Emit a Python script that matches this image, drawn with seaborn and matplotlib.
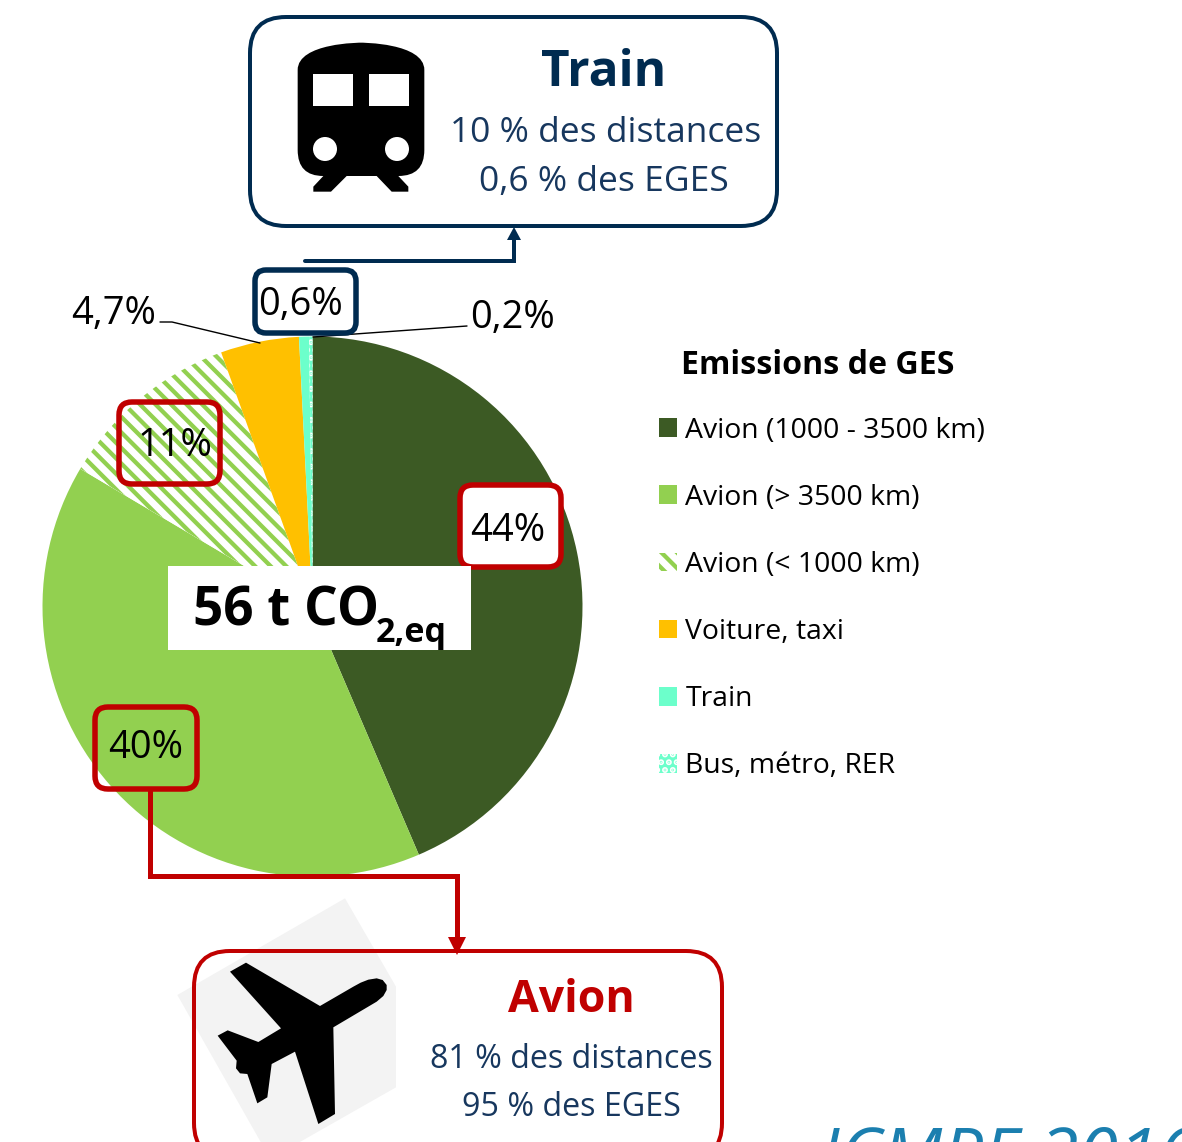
import numpy as np
import pandas as pd
import matplotlib.pyplot as plt
import seaborn as sns
from matplotlib.path import Path
from matplotlib.patches import Circle, FancyBboxPatch, PathPatch, Polygon, Rectangle

# Configuration
W, H = 1182, 1142
DPI = 140
NAVY = '#002B50'
TEXT_NAVY = '#17375E'
RED = '#C00000'

# Chart data
categories = ['Avion (1000 - 3500 km)', 'Avion (> 3500 km)', 'Avion (< 1000 km)',
              'Voiture, taxi', 'Train', 'Bus, métro, RER']
shares = [43.6, 40, 11, 4.7, 0.6, 0.2]
colors = ['#3C5A24', '#92D050', '#FFFFFF', '#FFC000', '#6CFFCB', '#6CFFCB']


def pt(px):
    # pixel size to points
    return px * 72 / DPI


def Y(py):
    # picture y (downwards) to axes y
    return H - py


def rounded_box(ax, x0, y0, x1, y1, r, color, lw, fill='none', zorder=5):
    ax.add_patch(FancyBboxPatch((x0 + r, Y(y1) + r), x1 - x0 - 2 * r, y1 - y0 - 2 * r,
                                boxstyle=f'round,pad={r},rounding_size={r}',
                                fc=fill, ec=color, lw=pt(lw), zorder=zorder))


def label(ax, x, y, s, size, color='black', weight='normal', ha='center', zorder=8, **kw):
    # Open Sans sits a few pixels high with va=center
    ax.text(x, Y(y + 4), s, fontsize=pt(size), color=color, fontweight=weight,
            ha=ha, va='center', zorder=zorder, **kw)


def draw_pie(ax):
    wedges, _ = ax.pie(shares, colors=sns.color_palette(colors), startangle=90,
                       counterclock=False, center=(312.5, Y(606.5)), radius=270,
                       wedgeprops={'linewidth': 0})
    wedges[2].set(hatch='\\\\\\', edgecolor='#92D050', linewidth=0)
    wedges[5].set(hatch='...', edgecolor='white', linewidth=0)
    return wedges


def draw_legend(ax, wedges):
    leg = ax.legend(wedges, categories, loc='upper left',
                    bbox_to_anchor=(653 / W, 1 - 411 / H), frameon=False,
                    prop={'size': pt(28.4)}, labelcolor='black',
                    handlelength=0.64, handleheight=0.64, handletextpad=0.3,
                    labelspacing=1.377, borderpad=0.2, borderaxespad=0)
    label(ax, 681, 362, 'Emissions de GES', 32.2, weight='bold', ha='left')


def draw_train(ax):
    # outline, zoomed x3 from (270, 20)
    verts = [(83, 150), (83, 68), (273, 68), (273, 68), (273, 68), (463, 68), (463, 150),
             (463, 390), (463, 468), (385, 468), (415, 500), (415, 515), (365, 515), (320, 468),
             (230, 468), (183, 515), (130, 515), (130, 500), (160, 468), (83, 468), (83, 390),
             (83, 150)]
    codes = [Path.MOVETO, Path.CURVE4, Path.CURVE4, Path.CURVE4, Path.CURVE4, Path.CURVE4, Path.CURVE4,
             Path.LINETO, Path.CURVE3, Path.CURVE3, Path.LINETO, Path.LINETO, Path.LINETO, Path.LINETO,
             Path.LINETO, Path.LINETO, Path.LINETO, Path.LINETO, Path.LINETO, Path.CURVE3, Path.CURVE3,
             Path.CLOSEPOLY]
    conv = [(270 + x / 3, Y(20 + y / 3)) for x, y in verts]
    ax.add_patch(PathPatch(Path(conv, codes), fc='black', ec='none', zorder=3))
    for x0, x1 in [(313, 353), (369, 409)]:
        ax.add_patch(Rectangle((x0, Y(106)), x1 - x0, 32, fc='white', ec='none', zorder=4))
    for x in [325, 397]:
        ax.add_patch(Circle((x, Y(149)), 12, fc='white', ec='none', zorder=4))


def draw_plane(ax):
    # outline, zoomed x3 from (170, 890)
    back = [(525, 25), (22, 315), (280, 770), (365, 770), (678, 592), (678, 290)]
    plane = [(180, 245), (228, 218), (450, 348), (550, 290), (572, 278), (595, 269), (620, 265),
             (638, 270), (650, 285), (650, 300), (640, 318), (620, 335), (490, 412), (495, 672),
             (445, 702), (375, 485), (305, 522), (292, 622), (262, 640), (232, 552), (210, 550),
             (198, 535), (200, 512), (143, 437), (173, 421), (265, 456), (333, 415)]
    conv = lambda pts: [(170 + x / 3, Y(890 + y / 3)) for x, y in pts]
    ax.add_patch(Polygon(conv(back), fc='#F3F3F3', ec='none', zorder=1))
    ax.add_patch(Polygon(conv(plane), fc='black', ec='none', zorder=3))


def draw_annotations(ax):
    # info boxes
    rounded_box(ax, 250, 17, 777, 226, 36, NAVY, 4)
    rounded_box(ax, 194, 951, 722, 1159, 36, RED, 4)
    label(ax, 604, 69, 'Train', 49.5, NAVY, 'bold')
    label(ax, 606, 129, '10 % des distances', 35.4, TEXT_NAVY)
    label(ax, 604, 178, '0,6 % des EGES', 35.4, TEXT_NAVY)
    label(ax, 571, 996, 'Avion', 44.6, RED, 'bold')
    label(ax, 571, 1055, '81 % des distances', 32.3, TEXT_NAVY)
    label(ax, 571, 1104, '95 % des EGES', 32.3, TEXT_NAVY)

    # connectors
    ax.plot([305, 514, 514], [Y(261), Y(261), Y(235)], color=NAVY, lw=pt(4), solid_joinstyle='miter', zorder=2)
    ax.add_patch(Polygon([(514, Y(227)), (507, Y(240)), (521, Y(240))], fc=NAVY, ec='none', zorder=2))
    ax.plot([150, 150, 457, 457], [Y(789), Y(876), Y(876), Y(940)], color=RED, lw=pt(5),
            solid_joinstyle='miter', zorder=2)
    ax.add_patch(Polygon([(457, Y(955)), (448, Y(937)), (466, Y(937))], fc=RED, ec='none', zorder=6))

    # leader lines
    ax.plot([160, 172, 260], [Y(322), Y(322), Y(343)], color='black', lw=pt(1.4), zorder=2)
    ax.plot([467, 313], [Y(326), Y(337)], color='black', lw=pt(1.4), zorder=2)

    # value labels
    rounded_box(ax, 255, 270, 356, 333, 11, NAVY, 5.5, fill='white', zorder=6)
    rounded_box(ax, 460, 485, 561, 567, 13, RED, 5.5, fill='white', zorder=6)
    rounded_box(ax, 119, 402, 220, 484, 13, RED, 5.5, zorder=6)
    rounded_box(ax, 95, 707, 197, 789, 13, RED, 5.5, zorder=6)
    label(ax, 301, 301, '0,6%', 38)
    label(ax, 508, 527, '44%', 38)
    label(ax, 175, 442, '11%', 38)
    label(ax, 146, 744, '40%', 38)
    label(ax, 114, 310, '4,7%', 38)
    label(ax, 513, 314, '0,2%', 38)

    # total
    ax.add_patch(Rectangle((168, Y(650)), 303, 84, fc='white', ec='none', zorder=6))
    label(ax, 193, 608, '56 t CO', 53, 'black', 'bold', ha='left')
    label(ax, 376, 629, '2,eq', 34, 'black', 'bold', ha='left')

    # cut off at the bottom of the slide
    label(ax, 820, 1156, 'ICMPE 2016', 72, '#1B7FAF', ha='left', style='italic', zorder=2)


def main():
    sns.set_theme(style='white')
    plt.rcParams['font.family'] = ['Open Sans', 'DejaVu Sans']
    plt.rcParams['hatch.linewidth'] = 2.2

    fig = plt.figure(figsize=(W / DPI, H / DPI), dpi=DPI)
    ax = fig.add_axes([0, 0, 1, 1])

    wedges = draw_pie(ax)
    draw_legend(ax, wedges)
    draw_train(ax)
    draw_plane(ax)
    draw_annotations(ax)

    ax.set_xlim(0, W)
    ax.set_ylim(0, H)
    ax.set_aspect('equal')
    ax.axis('off')
    fig.savefig('out.png', dpi=DPI, facecolor='white')
    plt.close(fig)


if __name__ == '__main__':
    main()
